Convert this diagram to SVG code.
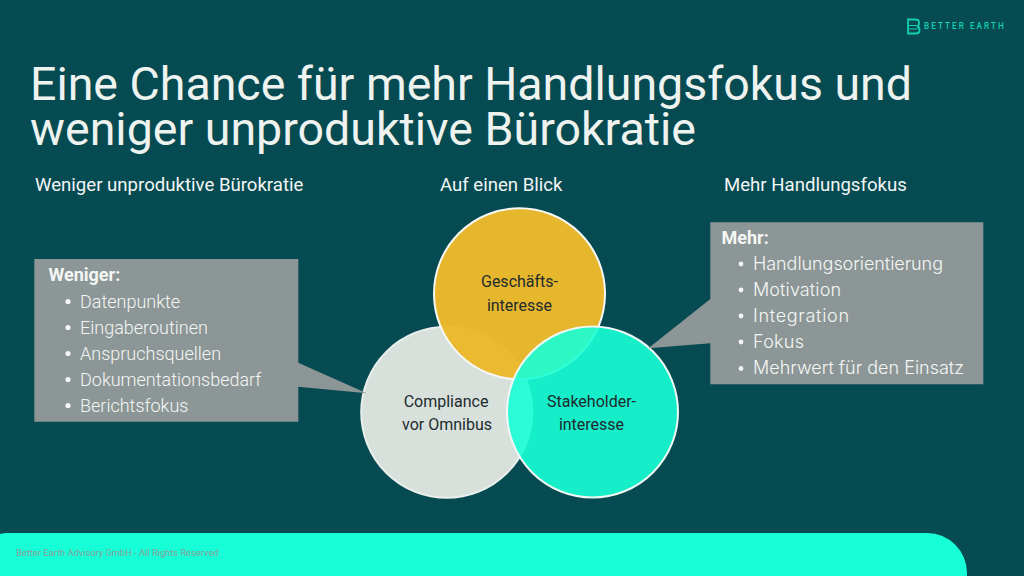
<svg xmlns="http://www.w3.org/2000/svg" width="1024" height="576" viewBox="0 0 1024 576">
<style>
text{font-family:Roboto,"Liberation Sans",sans-serif}
.title{font-size:46.500px;fill:#eef3ef;font-weight:400}
.head{font-size:18.600px;fill:#f2f6f4}
.lbl{font-size:16px;fill:#1d2b2e;text-anchor:middle}
.li{font-size:18px;fill:#f4f6f5;font-weight:300}
.lr{font-size:18px;fill:#f4f6f5;font-family:Inter,Roboto,sans-serif;font-weight:300}
.b{fill:#f4f6f5}
.box{fill:#8c9696}
</style>
<rect width="1024" height="576" fill="#064a52"/>
<g id="logo">
<path d="M908 19.500h7.500q3.500 0 3.500 3v1.500q0 2-2 2.500q2.500 .5 2.500 3v1q0 3-3.500 3h-8z" fill="none" stroke="#12d0b0" stroke-width="1.800"/>
<path d="M908.500 25.500h8.500M908.500 29h9" fill="none" stroke="#12d0b0" stroke-width="1.200"/>
<text x="924" y="29" font-size="8.200" font-weight="500" letter-spacing="2.030" fill="#12d0b0">BETTER EARTH</text>
</g>
<g id="title">
<text class="title" x="30" y="99.500" textLength="882">Eine Chance für mehr Handlungsfokus und</text>
<text class="title" x="30" y="145" textLength="666">weniger unproduktive Bürokratie</text>
</g>
<g id="headings">
<text class="head" x="35" y="190.500">Weniger unproduktive Bürokratie</text>
<text class="head" x="440" y="190.500">Auf einen Blick</text>
<text class="head" x="724" y="190.500">Mehr Handlungsfokus</text>
</g>
<g id="circle-compliance">
<circle cx="446.700" cy="412.300" r="85.500" fill="#d8e0dc" stroke="#e8eeeb" stroke-width="2"/>
</g>
<g id="circle-geschaeft">
<circle cx="519.500" cy="293.700" r="85.500" fill="#ebb92d" fill-opacity=".98" stroke="#f6f8f6" stroke-width="2"/>
</g>
<g id="circle-stakeholder">
<circle cx="592.500" cy="412" r="85.500" fill="#18ffd6" fill-opacity=".9" stroke="#f0f8f4" stroke-width="2"/>
</g>
<g id="box-weniger">
<path class="box" d="M34.300 259H298.300V362.700L366.700 393.300L298.300 386.700V421.700H34.300z"/>
<text x="48.500" y="280.500" font-size="18" font-weight="700" fill="#f4f6f5">Weniger:</text>
<g class="b"><circle cx="68" cy="301.500" r="2.600"/><circle cx="68" cy="327.500" r="2.600"/><circle cx="68" cy="353.500" r="2.600"/><circle cx="68" cy="379.500" r="2.600"/><circle cx="68" cy="405.500" r="2.600"/></g>
<text class="li" x="80" y="307.500">Datenpunkte</text>
<text class="li" x="80" y="333.500">Eingaberoutinen</text>
<text class="li" x="80" y="359.500">Anspruchsquellen</text>
<text class="li" x="80" y="385.500">Dokumentationsbedarf</text>
<text class="li" x="80" y="411.500">Berichtsfokus</text>
</g>
<g id="box-mehr">
<path class="box" d="M710.300 222.300H983.300V384.300H710.300V343.300L648.300 348.300L710.300 299z"/>
<text x="721.500" y="244" font-size="18" font-weight="700" fill="#f4f6f5" font-family="Inter,Roboto,sans-serif">Mehr:</text>
<g class="b"><circle cx="741" cy="264" r="2.400"/><circle cx="741" cy="290" r="2.400"/><circle cx="741" cy="316" r="2.400"/><circle cx="741" cy="342" r="2.400"/><circle cx="741" cy="368.500" r="2.400"/></g>
<text class="lr" x="753" y="270" textLength="190">Handlungsorientierung</text>
<text class="lr" x="753" y="296" textLength="88">Motivation</text>
<text class="lr" x="753" y="322" textLength="96">Integration</text>
<text class="lr" x="753" y="348" textLength="51">Fokus</text>
<text class="lr" x="753" y="374" textLength="211">Mehrwert für den Einsatz</text>
</g>
<g id="labels">
<text class="lbl" x="519.500" y="287">Geschäfts-</text>
<text class="lbl" x="519.500" y="310.500">interesse</text>
<text class="lbl" x="446" y="406.500">Compliance</text>
<text class="lbl" x="447" y="430">vor Omnibus</text>
<text class="lbl" x="591.500" y="406.500">Stakeholder-</text>
<text class="lbl" x="591.500" y="430">interesse</text>
</g>
<g id="footer">
<path d="M0 534Q3 533 8 533H927A40 40 0 0 1 967 573V576H0z" fill="#16ffd6"/>
<text x="16" y="556" font-size="9.300" fill="#8c9c9c">Better Earth Advisory GmbH - All Rights Reserved</text>
</g>
</svg>
